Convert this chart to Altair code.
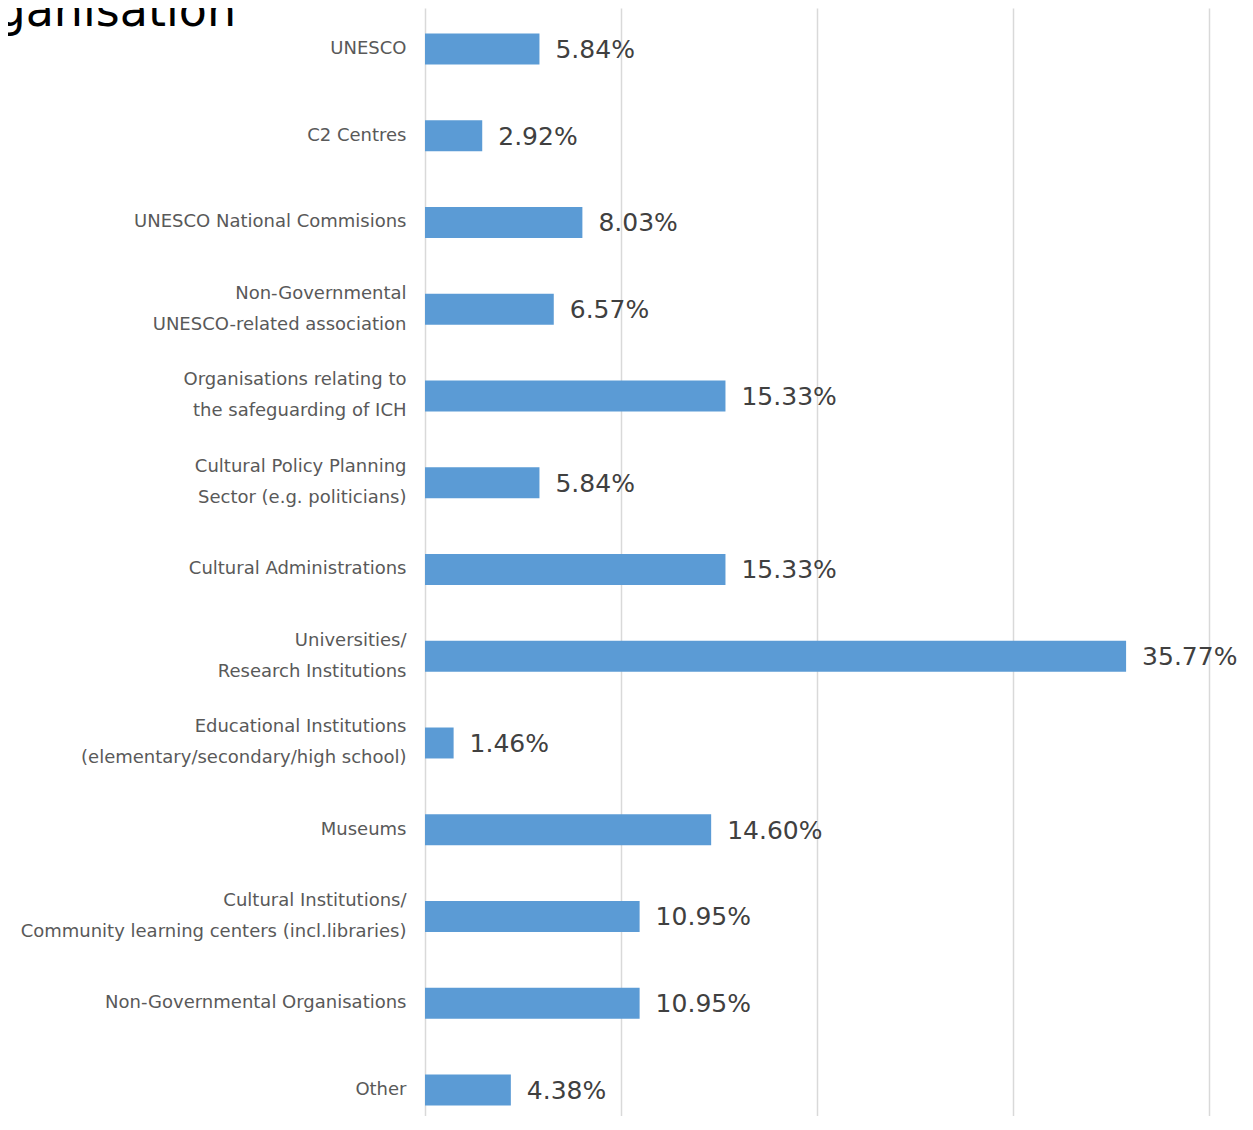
import altair as alt
import pandas as pd

categories = [
    "UNESCO",
    "C2 Centres",
    "UNESCO National Commisions",
    "Non-Governmental|UNESCO-related association",
    "Organisations relating to|the safeguarding of ICH",
    "Cultural Policy Planning|Sector (e.g. politicians)",
    "Cultural Administrations",
    "Universities/|Research Institutions",
    "Educational Institutions|(elementary/secondary/high school)",
    "Museums",
    "Cultural Institutions/|Community learning centers (incl.libraries)",
    "Non-Governmental Organisations",
    "Other",
]
values = [5.84, 2.92, 8.03, 6.57, 15.33, 5.84, 15.33, 35.77, 1.46, 14.60, 10.95, 10.95, 4.38]
x_ticks = [0, 10, 20, 30, 40]
title_text = "Type of organisation"

df = pd.DataFrame({"category": categories, "value": values})

y_enc = alt.Y(
    "category:N",
    sort=categories,
    title=None,
    scale=alt.Scale(paddingInner=0.643, paddingOuter=0.2075, align=0.708),
    axis=alt.Axis(
        labelExpr="split(datum.label, '|')",
        labelFont="DejaVu Sans",
        labelFontSize=18,
        labelColor="#595959",
        labelLineHeight=31,
        labelPadding=19,
        labelLimit=0,
        labelOffset=alt.condition(
            "indexof(datum.label, '|') >= 0", alt.value(-15.5), alt.value(0)
        ),
        ticks=False,
        domain=False,
        grid=False,
    ),
)

x_enc = alt.X(
    "value:Q",
    title=None,
    scale=alt.Scale(domain=[0, 40], nice=False),
    axis=alt.Axis(
        values=x_ticks,
        labels=False,
        ticks=False,
        domain=False,
        grid=True,
        gridColor="#d9d9d9",
        gridWidth=1.5,
    ),
)

base = alt.Chart(df).encode(y=y_enc, x=x_enc)

bars = base.mark_bar(color="#5b9bd5")

text = base.transform_calculate(
    lbl="format(datum.value, '.2f') + '%'"
).mark_text(
    align="left",
    baseline="middle",
    dx=16,
    dy=1,
    font="DejaVu Sans",
    fontSize=25,
    color="#404040",
).encode(text="lbl:N")

chart = (
    (bars + text)
    .properties(
        width=784,
        height=1108,
        padding={"left": 417, "top": 0, "right": 36, "bottom": 0},
        autosize=alt.AutoSizeParams(type="none"),
        view=alt.ViewBackground(stroke="transparent", strokeWidth=0),
        title=alt.TitleParams(
            text=title_text,
            anchor="start",
            frame="group",
            font="DejaVu Sans",
            fontSize=46,
            fontWeight="normal",
            color="#000000",
            baseline="alphabetic",
            offset=-64,
            dx=-654,
        ),
    )
    .configure_view(stroke="transparent", strokeWidth=0)
    .configure_axis(domainColor="transparent", tickColor="transparent")
    .configure(
        background="white",
        style={"cell": {"stroke": "transparent", "strokeWidth": 0}},
    )
)

chart.save("out.html", embed_options={"renderer": "svg", "actions": False})
